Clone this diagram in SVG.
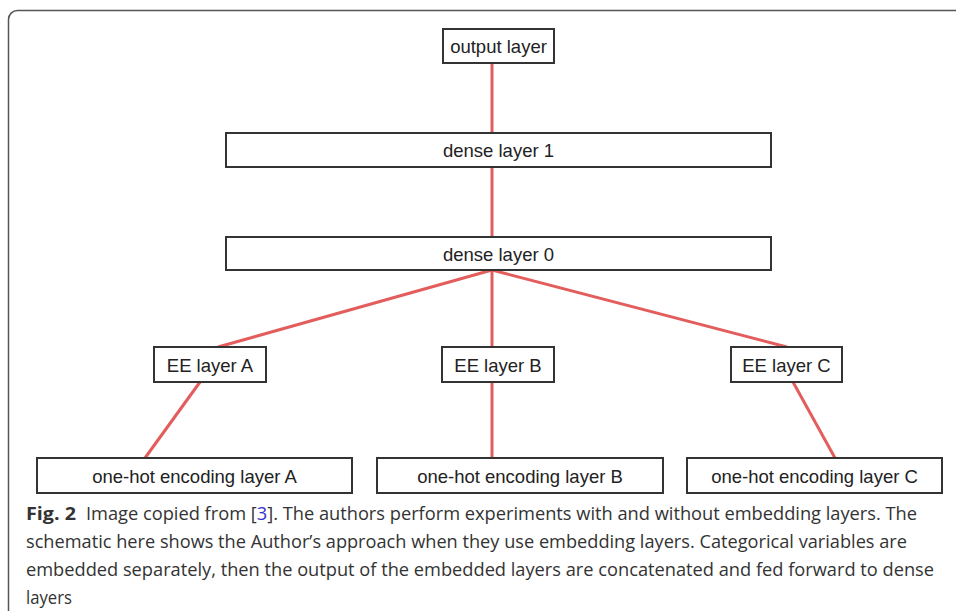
<svg xmlns="http://www.w3.org/2000/svg" width="956" height="611" viewBox="0 0 956 611">
<style>
.box{fill:#fff;stroke:#333;stroke-width:2}
.lbl{font-family:"Liberation Sans",Arial,sans-serif;font-size:18.5px;fill:#222;text-anchor:middle}
.con{stroke:#e35d5d;stroke-width:3;fill:none;stroke-linecap:butt}
.cap{font-family:"Open Sans","Noto Sans",sans-serif;font-size:18px;fill:#333}
</style>
<rect x="8.5" y="10.5" width="1000" height="700" rx="9" fill="#fff" stroke="#555" stroke-width="1.5"/>
<g id="connectors">
<line class="con" x1="492" y1="63" x2="492" y2="133"/>
<line class="con" x1="492" y1="167" x2="492" y2="237"/>
<line class="con" x1="492" y1="270" x2="218" y2="347"/>
<line class="con" x1="492" y1="270" x2="492" y2="347"/>
<line class="con" x1="492" y1="270" x2="787" y2="347"/>
<line class="con" x1="200" y1="382" x2="145" y2="458"/>
<line class="con" x1="492" y1="382" x2="492" y2="458"/>
<line class="con" x1="793" y1="382" x2="835" y2="458"/>
</g>
<g id="output"><rect class="box" x="443" y="29" width="111" height="34"/><text class="lbl" x="498.5" y="52.5">output layer</text></g>
<g id="dense1"><rect class="box" x="226" y="133" width="545" height="34"/><text class="lbl" x="498.5" y="156.5">dense layer 1</text></g>
<g id="dense0"><rect class="box" x="226" y="237" width="545" height="33"/><text class="lbl" x="498.5" y="260.5">dense layer 0</text></g>
<g id="eeA"><rect class="box" x="154" y="347" width="112" height="35"/><text class="lbl" x="210" y="371.5">EE layer A</text></g>
<g id="eeB"><rect class="box" x="442" y="347" width="112" height="35"/><text class="lbl" x="498" y="371.5">EE layer B</text></g>
<g id="eeC"><rect class="box" x="731" y="347" width="111" height="35"/><text class="lbl" x="786.5" y="371.5">EE layer C</text></g>
<g id="ohA"><rect class="box" x="37" y="458" width="315" height="35"/><text class="lbl" x="194.5" y="482.5">one-hot encoding layer A</text></g>
<g id="ohB"><rect class="box" x="377" y="458" width="286" height="35"/><text class="lbl" x="520" y="482.5">one-hot encoding layer B</text></g>
<g id="ohC"><rect class="box" x="687" y="458" width="255" height="35"/><text class="lbl" x="814.5" y="482.5">one-hot encoding layer C</text></g>
<g id="caption">
<text class="cap" x="26" y="520" font-weight="bold" textLength="50" lengthAdjust="spacingAndGlyphs">Fig. 2</text>
<text class="cap" x="86" y="520" textLength="831" lengthAdjust="spacingAndGlyphs">Image copied from [<tspan fill="#3333cc">3</tspan>]. The authors perform experiments with and without embedding layers. The</text>
<text class="cap" x="26" y="548" textLength="881" lengthAdjust="spacingAndGlyphs">schematic here shows the Author’s approach when they use embedding layers. Categorical variables are</text>
<text class="cap" x="26" y="576" textLength="908" lengthAdjust="spacingAndGlyphs">embedded separately, then the output of the embedded layers are concatenated and fed forward to dense</text>
<text class="cap" x="26" y="604" textLength="46" lengthAdjust="spacingAndGlyphs">layers</text>
</g>
</svg>
